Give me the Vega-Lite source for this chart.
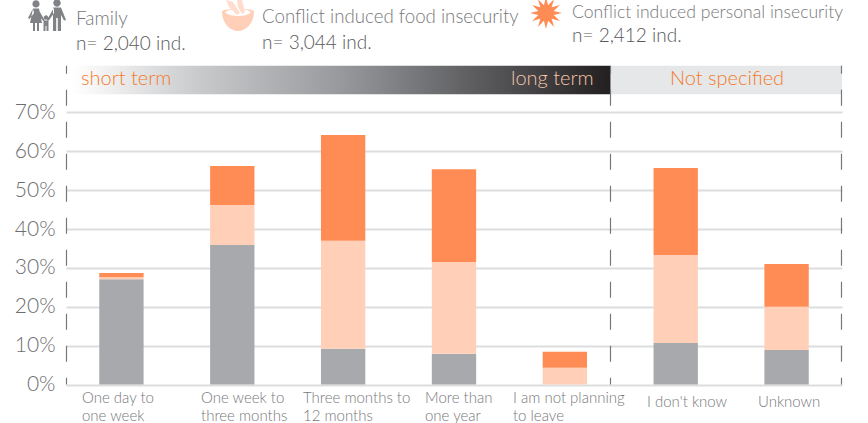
{
"$schema":"https://vega.github.io/schema/vega-lite/v6.json",
"width":776,"height":384.5,
"autosize":{"type":"none"},
"padding":{"left":66,"top":0,"right":26,"bottom":38},
"background":"white",
"config":{"view":{"stroke":null},"text":{"font":"Lato","fontWeight":300}},
"datasets":{
"bars":[
{"category":"One day to one week","series":"Family","share":27.1},
{"category":"One day to one week","series":"Food insecurity","share":0.5},
{"category":"One day to one week","series":"Personal insecurity","share":1.1},
{"category":"One week to three months","series":"Family","share":35.9},
{"category":"One week to three months","series":"Food insecurity","share":10.3},
{"category":"One week to three months","series":"Personal insecurity","share":10.0},
{"category":"Three months to 12 months","series":"Family","share":9.2},
{"category":"Three months to 12 months","series":"Food insecurity","share":27.8},
{"category":"Three months to 12 months","series":"Personal insecurity","share":27.2},
{"category":"More than one year","series":"Family","share":7.9},
{"category":"More than one year","series":"Food insecurity","share":23.6},
{"category":"More than one year","series":"Personal insecurity","share":23.9},
{"category":"I am not planning to leave","series":"Family","share":0},
{"category":"I am not planning to leave","series":"Food insecurity","share":4.3},
{"category":"I am not planning to leave","series":"Personal insecurity","share":4.1},
{"category":"I don't know","series":"Family","share":10.7},
{"category":"I don't know","series":"Food insecurity","share":22.6},
{"category":"I don't know","series":"Personal insecurity","share":22.4},
{"category":"Unknown","series":"Family","share":8.9},
{"category":"Unknown","series":"Food insecurity","share":11.1},
{"category":"Unknown","series":"Personal insecurity","share":11.0}
],
"catLabels":[
{"t":"One day to","x":82,"y":-3.5},{"t":"one week","x":82,"y":-8.1},
{"t":"One week to","x":201,"y":-3.5},{"t":"three months","x":201,"y":-8.1},
{"t":"Three months to","x":303,"y":-3.5},{"t":"12 months","x":303,"y":-8.1},
{"t":"More than","x":425,"y":-3.5},{"t":"one year","x":425,"y":-8.1},
{"t":"I am not planning","x":513,"y":-3.5},{"t":"to leave","x":513,"y":-8.1},
{"t":"I don't know","x":647,"y":-4.6},{"t":"Unknown","x":758,"y":-4.6}
],
"legendCounts":[
{"t":"n= 2,040 ind.","x":76,"y":87.6},
{"t":"n= 3,044 ind.","x":262,"y":87.9},
{"t":"n= 2,412 ind.","x":572,"y":89.7}
],
"dividers":[{"x":66.5,"top":82,"bottom":0},{"x":610.5,"top":82,"bottom":0},{"x":841.5,"top":82,"bottom":0}]
},
"layer":[
{"data":{"name":"bars"},
 "mark":{"type":"bar"},
 "encoding":{
  "x":{"field":"category","type":"nominal","sort":null,"axis":null,"scale":{"paddingInner":0.6,"paddingOuter":0.3}},
  "y":{"field":"share","type":"quantitative","stack":"zero","scale":{"domain":[0,98.95],"nice":false},
   "axis":{"title":null,"values":[0,10,20,30,40,50,60,70],"labelExpr":"datum.value+'%'","domain":false,"ticks":false,"grid":true,"gridColor":"#dcddde","gridWidth":2,"labelFont":"Lato","labelFontWeight":300,"labelFontSize":21,"labelColor":"#6d6e71","labelPadding":11}},
  "color":{"field":"series","type":"nominal","legend":null,"scale":{"domain":["Family","Food insecurity","Personal insecurity"],"range":["#a7a9ac","#ffcfb8","#ff8c55"]}},
  "order":{"field":"series"}
 }},
{"data":{"values":[{"from":72,"to":610.5,"top":82,"bottom":74.7}]},
 "mark":{"type":"rect","color":{"x1":0,"x2":1,"y1":0,"y2":0,"gradient":"linear","stops":[{"offset":0,"color":"#ffffff"},{"offset":0.24,"color":"#c8c9cb"},{"offset":0.5,"color":"#98999c"},{"offset":0.67,"color":"#6f7073"},{"offset":1,"color":"#231f20"}]}},
 "encoding":{"x":{"field":"from","type":"quantitative","axis":null,"scale":{"domain":[66,842],"nice":false,"zero":false}},"x2":{"field":"to"},"y":{"field":"top","type":"quantitative"},"y2":{"field":"bottom"}}},
{"data":{"values":[{"from":611,"to":842,"top":82,"bottom":74.7}]},
 "mark":{"type":"rect","color":"#e6e7e8"},
 "encoding":{"x":{"field":"from","type":"quantitative","axis":null,"scale":{"domain":[66,842],"nice":false,"zero":false}},"x2":{"field":"to"},"y":{"field":"top","type":"quantitative"},"y2":{"field":"bottom"}}},
{"data":{"name":"dividers"},
 "mark":{"type":"rule","color":"#77787b","strokeWidth":1.2,"strokeDash":[16,16],"strokeDashOffset":8},
 "encoding":{"x":{"field":"x","type":"quantitative","axis":null,"scale":{"domain":[66,842],"nice":false,"zero":false}},"y":{"field":"top","type":"quantitative"},"y2":{"field":"bottom"}}},
{"data":{"name":"catLabels"},
 "mark":{"type":"text","align":"left","baseline":"middle","fontSize":15,"color":"#77787b","clip":false},
 "encoding":{"x":{"field":"x","type":"quantitative","axis":null,"scale":{"domain":[66,842],"nice":false,"zero":false}},"y":{"field":"y","type":"quantitative"},"text":{"field":"t"}}},
{"data":{"values":[{"t":"Family","x":76,"y":94.1}]},
 "mark":{"type":"text","align":"left","baseline":"middle","fontSize":19,"color":"#77787b"},
 "encoding":{"x":{"field":"x","type":"quantitative","axis":null,"scale":{"domain":[66,842],"nice":false,"zero":false}},"y":{"field":"y","type":"quantitative"},"text":{"field":"t"}}},
{"data":{"values":[{"t":"Conflict induced food insecurity","x":262,"y":94.6}]},
 "mark":{"type":"text","align":"left","baseline":"middle","fontSize":18.7,"color":"#77787b"},
 "encoding":{"x":{"field":"x","type":"quantitative","axis":null,"scale":{"domain":[66,842],"nice":false,"zero":false}},"y":{"field":"y","type":"quantitative"},"text":{"field":"t"}}},
{"data":{"values":[{"t":"Conflict induced personal insecurity","x":572,"y":95.6}]},
 "mark":{"type":"text","align":"left","baseline":"middle","fontSize":17.6,"color":"#77787b"},
 "encoding":{"x":{"field":"x","type":"quantitative","axis":null,"scale":{"domain":[66,842],"nice":false,"zero":false}},"y":{"field":"y","type":"quantitative"},"text":{"field":"t"}}},
{"data":{"name":"legendCounts"},
 "mark":{"type":"text","align":"left","baseline":"middle","fontSize":19,"color":"#58595b"},
 "encoding":{"x":{"field":"x","type":"quantitative","axis":null,"scale":{"domain":[66,842],"nice":false,"zero":false}},"y":{"field":"y","type":"quantitative"},"text":{"field":"t"}}},
{"data":{"values":[{"t":"short term","x":81,"y":78.5}]},
 "mark":{"type":"text","align":"left","baseline":"middle","fontSize":20,"color":"#f47b2a"},
 "encoding":{"x":{"field":"x","type":"quantitative","axis":null,"scale":{"domain":[66,842],"nice":false,"zero":false}},"y":{"field":"y","type":"quantitative"},"text":{"field":"t"}}},
{"data":{"values":[{"t":"long term","x":511,"y":78.5}]},
 "mark":{"type":"text","align":"left","baseline":"middle","fontSize":20,"color":"#f6c6aa"},
 "encoding":{"x":{"field":"x","type":"quantitative","axis":null,"scale":{"domain":[66,842],"nice":false,"zero":false}},"y":{"field":"y","type":"quantitative"},"text":{"field":"t"}}},
{"data":{"values":[{"t":"Not specified","x":670,"y":78.5}]},
 "mark":{"type":"text","align":"left","baseline":"middle","fontSize":20,"color":"#f47b2a"},
 "encoding":{"x":{"field":"x","type":"quantitative","axis":null,"scale":{"domain":[66,842],"nice":false,"zero":false}},"y":{"field":"y","type":"quantitative"},"text":{"field":"t"}}},
{"data":{"values":[{"x":46,"y":95.1}]},
 "mark":{"type":"point","filled":true,"opacity":1,"color":"#808285","size":4,"strokeWidth":0,"shape":"M-13.6,-11a3.6,3.6 0 1,0 7.2,0a3.6,3.6 0 1,0 -7.2,0ZM7.3,-12a3.7,3.7 0 1,0 7.4,0a3.7,3.7 0 1,0 -7.4,0ZM-2.3,2.5a2.3,2.3 0 1,0 4.6,0a2.3,2.3 0 1,0 -4.6,0ZM-13,-6.5L-7,-6.5L-4,8L-7,8L-7,16L-9,16L-9,8L-11,8L-11,16L-13,16L-13,8L-16,8ZM-8,-6.5L-1,6L-2,7L-9,-2ZM-13,-6.5L-18,3L-16.5,4L-12,-2ZM7,-7.5L15,-7.5L15,16L11.8,16L11.8,3L10.2,3L10.2,16L7,16ZM8,-7.5L1,5L2.5,6L8,-2ZM15,-7.5L20,5L18,5.5L14,-2ZM-2.5,5.5L2.5,5.5L2.5,16L0.5,16L0.5,11L-0.5,11L-0.5,16L-2.5,16Z"},
 "encoding":{"x":{"field":"x","type":"quantitative","axis":null,"scale":{"domain":[66,842],"nice":false,"zero":false}},"y":{"field":"y","type":"quantitative"}}},
{"data":{"values":[{"x":238,"y":95.1}]},
 "mark":{"type":"point","filled":true,"opacity":1,"color":"#ffcfb8","size":4,"strokeWidth":0,"shape":"M-16,-3C-16,-6 -8,-6 0,-6C8,-6 16,-6 16,-3C16,8 8,16 0,16C-8,16 -16,8 -16,-3Z"},
 "encoding":{"x":{"field":"x","type":"quantitative","axis":null,"scale":{"domain":[66,842],"nice":false,"zero":false}},"y":{"field":"y","type":"quantitative"}}},
{"data":{"values":[{"x":238,"y":95.1}]},
 "mark":{"type":"point","filled":true,"opacity":1,"color":"#ffffff","size":4,"strokeWidth":0,"shape":"M-13,-2.5C-11,-5 -6,-6 0,-6C6,-6 11,-5 13,-2.5C10,0 5,1 0,1C-5,1 -10,0 -13,-2.5Z"},
 "encoding":{"x":{"field":"x","type":"quantitative","axis":null,"scale":{"domain":[66,842],"nice":false,"zero":false}},"y":{"field":"y","type":"quantitative"}}},
{"data":{"values":[{"x":238,"y":95.1}]},
 "mark":{"type":"point","filled":true,"opacity":1,"color":"#ffdccb","size":4,"strokeWidth":0,"shape":"M-12,-15L-5,-13L2,-2L-1,0L-9,-8ZM-1,-15L4,-15L7,-3L4,-1L0,-8Z"},
 "encoding":{"x":{"field":"x","type":"quantitative","axis":null,"scale":{"domain":[66,842],"nice":false,"zero":false}},"y":{"field":"y","type":"quantitative"}}},
{"data":{"values":[{"x":546,"y":95.6}]},
 "mark":{"type":"point","filled":true,"opacity":1,"color":"#ff8c55","size":4,"strokeWidth":0,"shape":"M0,-16L2.1,-7.7L8,-13.9L5.7,-5.7L13.9,-8L7.7,-2.1L16,0L7.7,2.1L13.9,8L5.7,5.7L8,13.9L2.1,7.7L0,16L-2.1,7.7L-8,13.9L-5.7,5.7L-13.9,8L-7.7,2.1L-16,0L-7.7,-2.1L-13.9,-8L-5.7,-5.7L-8,-13.9L-2.1,-7.7Z"},
 "encoding":{"x":{"field":"x","type":"quantitative","axis":null,"scale":{"domain":[66,842],"nice":false,"zero":false}},"y":{"field":"y","type":"quantitative"}}}
],
"resolve":{"scale":{"x":"independent"}}
}
